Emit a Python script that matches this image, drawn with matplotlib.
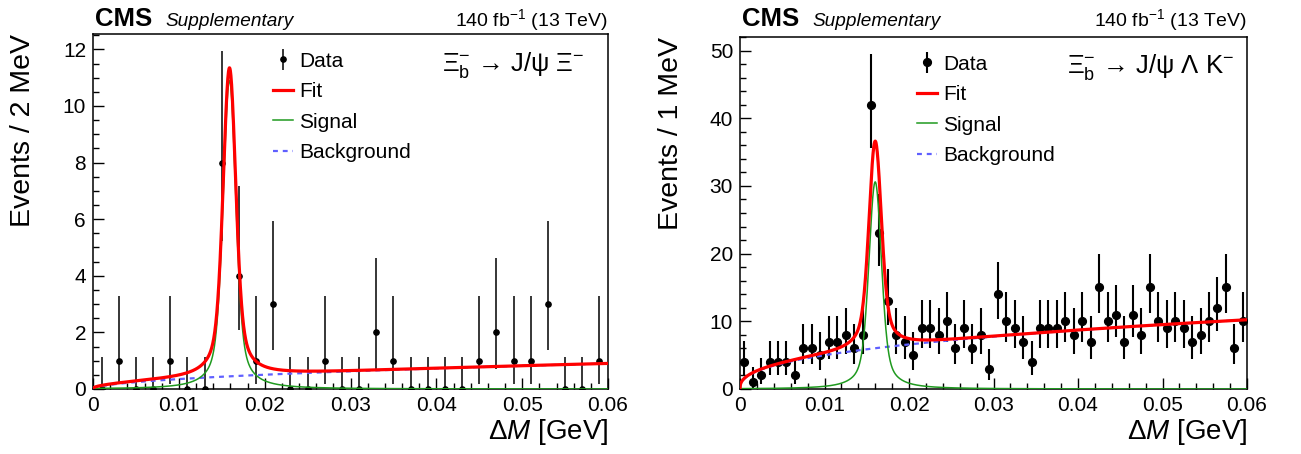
import math
import numpy as np
import matplotlib
matplotlib.use('Agg')
import matplotlib.pyplot as plt
from matplotlib.ticker import MultipleLocator, FuncFormatter

plt.rcParams['font.family'] = ['Liberation Sans', 'DejaVu Sans']
plt.rcParams['mathtext.fontset'] = 'custom'
plt.rcParams['mathtext.rm'] = 'Liberation Sans'
plt.rcParams['mathtext.it'] = 'Liberation Sans:italic'
plt.rcParams['mathtext.bf'] = 'Liberation Sans:bold'

# Events per bin, Xi_b -> J/psi Xi (2 MeV bins, 0-60 MeV)
xi_counts = [0, 1, 0, 0, 1, 0, 0, 8, 4, 1, 3, 0, 0, 1, 0,
             0, 2, 1, 0, 0, 0, 0, 1, 2, 1, 1, 3, 0, 0, 1]
# Events per bin, Xi_b -> J/psi Lambda K (1 MeV bins, 0-60 MeV)
lk_counts = [4, 1, 2, 4, 4, 4, 2, 6, 6, 5, 7, 7, 8, 6, 8,
             42, 23, 13, 8, 7, 5, 9, 9, 8, 10, 6, 9, 6, 8, 3,
             14, 10, 9, 7, 4, 9, 9, 9, 10, 8, 10, 7, 15, 10, 11,
             7, 11, 8, 15, 10, 9, 10, 9, 7, 8, 10, 12, 15, 6, 10]

# fit model parameters
xi_fit = dict(mean=0.0159, sig_peak=10.9, bg_norm=3.97, bg_pow=0.527)
lk_fit = dict(mean=0.0160, sig_peak=30.6, bg_norm=31.5, bg_pow=0.40)
gauss_sigma = 0.0007
lorentz_hwhm = 0.0011
lorentz_frac = 0.4


def pois_cdf(n, mu):
    term = math.exp(-mu)
    tot = term
    for k in range(1, n + 1):
        term *= mu / k
        tot += term
    return tot


def bisect(f, a, b):
    fa = f(a)
    for _ in range(80):
        m = 0.5 * (a + b)
        fm = f(m)
        if (fm > 0) == (fa > 0):
            a, fa = m, fm
        else:
            b = m
    return 0.5 * (a + b)


def poisson_err(n):
    # RooFit style 68% central interval
    if n == 0:
        return 0.0, -math.log(1 - 0.6827)
    alpha = (1 - 0.6827) / 2
    lo = bisect(lambda mu: 1 - pois_cdf(n - 1, mu) - alpha, 1e-9, n)
    hi = bisect(lambda mu: pois_cdf(n, mu) - alpha, n, n + 10 * math.sqrt(n) + 10)
    return n - lo, hi - n


def model(x, p):
    dx = x - p['mean']
    shape = (1 - lorentz_frac) * np.exp(-0.5 * (dx / gauss_sigma) ** 2) \
        + lorentz_frac / (1 + (dx / lorentz_hwhm) ** 2)
    sig = p['sig_peak'] * shape
    bg = p['bg_norm'] * np.power(x, p['bg_pow'])
    return sig, bg


W, H = 1301, 454
fig = plt.figure(figsize=(W / 100, H / 100), dpi=100)


def px_box(x0, x1, ytop, ybot):
    return [x0 / W, 1 - ybot / H, (x1 - x0) / W, (ybot - ytop) / H]


panels = [
    dict(counts=xi_counts, fit=xi_fit, box=px_box(93, 608, 34, 389),
         ylabel='Events / 2 MeV', ymajor=2, yminor=0.5, ms=3.8, elw=1.1,
         title='Ξ$_{\\mathrm{b}}^{-}$ → J/ψ Ξ$^{-}$', tpos=(0.955, 0.912)),
    dict(counts=lk_counts, fit=lk_fit, box=px_box(740, 1247, 37, 389),
         ylabel='Events / 1 MeV', ymajor=10, yminor=2, ms=5.6, elw=1.5,
         title='Ξ$_{\\mathrm{b}}^{-}$ → J/ψ Λ K$^{-}$', tpos=(0.975, 0.915)),
]

xgrid = np.linspace(1e-7, 0.06, 3000)
header_base = 1 - 26 / H

for p in panels:
    ax = fig.add_axes(p['box'])
    counts = np.array(p['counts'])
    nb = len(counts)
    edges = np.linspace(0, 0.06, nb + 1)
    centers = 0.5 * (edges[1:] + edges[:-1])
    errs = np.array([poisson_err(int(n)) for n in counts]).T

    dat = ax.errorbar(centers, counts, yerr=errs, fmt='o', color='black',
                      ms=p['ms'], elinewidth=p['elw'], capsize=0, zorder=2)
    sig, bg = model(xgrid, p['fit'])
    bgl, = ax.plot(xgrid, bg, color='#5f5fff', lw=1.6, ls=(0, (2.2, 2.2)), zorder=3)
    sgl, = ax.plot(xgrid, sig, color='#1f9a1f', lw=1.1, zorder=3)
    fitl, = ax.plot(xgrid, sig + bg, color='#ff0000', lw=2.3, zorder=4)

    ax.set_xlim(0, 0.06)
    ax.set_ylim(0, 1.05 * np.max(counts + errs[1]))
    ax.xaxis.set_major_locator(MultipleLocator(0.01))
    ax.xaxis.set_minor_locator(MultipleLocator(0.002))
    ax.yaxis.set_major_locator(MultipleLocator(p['ymajor']))
    ax.yaxis.set_minor_locator(MultipleLocator(p['yminor']))
    ax.xaxis.set_major_formatter(FuncFormatter(lambda v, pos: '0' if abs(v) < 1e-9 else '%.2f' % v))
    ax.tick_params(which='both', direction='in', labelsize=15, width=1.0)
    ax.tick_params(which='major', length=8, pad=5)
    ax.tick_params(which='minor', length=4)
    for s in ax.spines.values():
        s.set_linewidth(1.1)

    ax.set_ylabel(p['ylabel'], fontsize=20.5, loc='top')
    ax.yaxis.set_label_coords(-0.11, 1.0)
    ax.set_xlabel(r'$\Delta\mathit{M}$ [GeV]', fontsize=20, loc='right')
    ax.xaxis.set_label_coords(1.0, -0.08)

    ax.legend([dat, fitl, sgl, bgl], ['Data', 'Fit', 'Signal', 'Background'],
              loc='upper left', bbox_to_anchor=(0.35, 0.95), frameon=False,
              fontsize=15, handlelength=0.95, handletextpad=0.3,
              labelspacing=0.55, borderpad=0, borderaxespad=0)
    ax.text(p['tpos'][0], p['tpos'][1], p['title'], transform=ax.transAxes,
            ha='right', va='center', fontsize=18.5)

    x0 = p['box'][0]
    x1 = p['box'][0] + p['box'][2]
    fig.text(x0 + 2 / W, header_base, 'CMS', fontsize=18.5, fontweight='bold',
             ha='left', va='baseline')
    fig.text(x0 + 72 / W, header_base, 'Supplementary', fontsize=13.7,
             style='italic', ha='left', va='baseline')
    fig.text(x1, header_base, r'140 fb$^{-1}$ (13 TeV)', fontsize=14,
             ha='right', va='baseline')

fig.savefig('out.png', dpi=100)
